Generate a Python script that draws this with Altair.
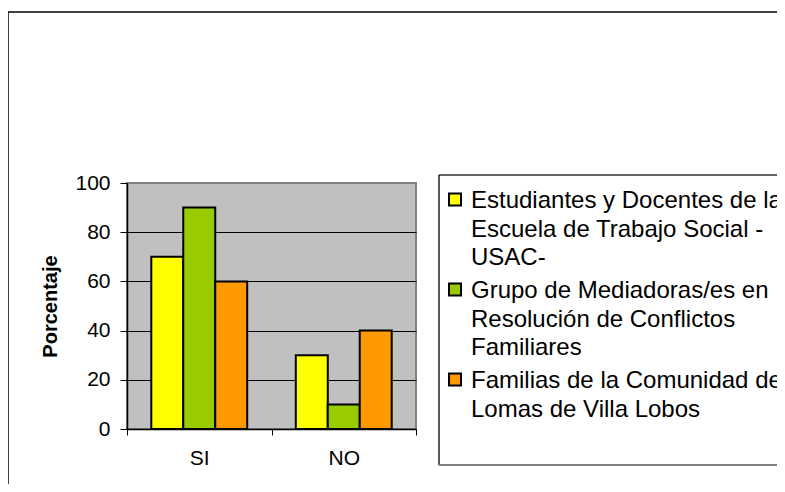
import altair as alt
import pandas as pd

categories = ["SI", "NO"]
series = [
    "Estudiantes y Docentes de la Escuela de Trabajo Social -USAC-",
    "Grupo de Mediadoras/es en Resolución de Conflictos Familiares",
    "Familias de la Comunidad de Lomas de Villa Lobos",
]
legend_lines = [
    ["Estudiantes y Docentes de la", "Escuela de Trabajo Social -", "USAC-"],
    ["Grupo de Mediadoras/es en", "Resolución de Conflictos", "Familiares"],
    ["Familias de la Comunidad de", "Lomas de Villa Lobos"],
]
values_estudiantes = [70, 30]
values_grupo = [90, 10]
values_familias = [60, 40]
colors = ["#FFFF00", "#99CC00", "#FF9900"]
y_ticks = [0, 20, 40, 60, 80, 100]

rows = []
for s, vals in zip(series, [values_estudiantes, values_grupo, values_familias]):
    for c, v in zip(categories, vals):
        rows.append({"respuesta": c, "grupo": s, "porcentaje": v})
df = pd.DataFrame(rows)

def js_str(t):
    return "'" + t.replace("'", "\\'") + "'"

expr = js_str("")
for s, lines in reversed(list(zip(series, legend_lines))):
    arr = "[" + ",".join(js_str(l) for l in lines) + "]"
    expr = f"datum.label === {js_str(s)} ? {arr} : ({expr})"

FONT = "Liberation Sans"

bars = alt.Chart(df).mark_bar(stroke="black", strokeWidth=2).encode(
    x=alt.X(
        "respuesta:N",
        sort=categories,
        scale=alt.Scale(paddingInner=0, paddingOuter=0),
        axis=alt.Axis(
            title=None,
            labelAngle=0,
            labelFontSize=21,
            labelColor="black",
            labelPadding=12,
            tickBand="extent",
            tickSize=6,
            tickColor="black",
            domainColor="black",
            domainWidth=1.5,
        ),
    ),
    xOffset=alt.XOffset(
        "grupo:N",
        sort=series,
        scale=alt.Scale(paddingInner=0, paddingOuter=0.76),
    ),
    y=alt.Y(
        "porcentaje:Q",
        scale=alt.Scale(domain=[0, 100], nice=False),
        axis=alt.Axis(
            title="Porcentaje",
            values=y_ticks,
            labelFontSize=21,
            labelColor="black",
            labelPadding=10,
            tickSize=7,
            tickColor="black",
            domainColor="black",
            domainWidth=1.5,
            grid=True,
            gridColor={"condition": {"test": "datum.value === 100", "value": "#808080"}, "value": "#000000"},
            gridWidth=1,
            titleFontSize=20,
            titleFontWeight="bold",
            titleColor="black",
            titleX=-77,
            titleY=123,
            titleAngle=270,
            titleAlign="center",
            titleBaseline="middle",
        ),
    ),
    color=alt.Color(
        "grupo:N",
        sort=series,
        scale=alt.Scale(domain=series, range=colors),
        legend=alt.Legend(
            title=None,
            orient="none",
            legendX=310,
            legendY=7,
            padding=6,
            labelFontSize=24,
            labelColor="black",
            labelFont=FONT,
            labelLimit=1000,
            labelBaseline="alphabetic",
            labelOffset=4,
            labelExpr=expr,
            rowPadding=9,
            symbolType="M-1,-2.43L1,-2.43L1,-0.43L-1,-0.43Z",
            symbolSize=144,
            symbolStrokeColor="black",
            symbolStrokeWidth=2,
            symbolOpacity=1,
        ),
    ),
)

one = alt.Data(values=[{}])
frame_top = alt.Chart(one).mark_rule(color="black", strokeWidth=1.5).encode(
    x=alt.value(-119), x2=alt.value(680), y=alt.value(-171)
)
frame_left = alt.Chart(one).mark_rule(color="black", strokeWidth=1.5).encode(
    x=alt.value(-119), y=alt.value(-171), y2=alt.value(330)
)
legend_fill = alt.Chart(one).mark_rect(fill="white", stroke=None).encode(
    x=alt.value(312), x2=alt.value(680), y=alt.value(-8), y2=alt.value(282)
)
legend_top = alt.Chart(one).mark_rule(color="#333333", strokeWidth=1.5).encode(
    x=alt.value(312), x2=alt.value(680), y=alt.value(-8)
)
legend_left = alt.Chart(one).mark_rule(color="#222222", strokeWidth=1.5).encode(
    x=alt.value(312), y=alt.value(-8), y2=alt.value(282)
)
legend_bottom = alt.Chart(one).mark_rule(color="#808080", strokeWidth=2).encode(
    x=alt.value(312), x2=alt.value(680), y=alt.value(282)
)

chart = alt.layer(
    frame_top, frame_left, legend_fill, legend_top, legend_left, legend_bottom, bars
).properties(
    width=289,
    height=246,
    padding={"left": 119, "top": 175, "right": 361, "bottom": 55},
    autosize=alt.AutoSizeParams(type="none"),
    background="white",
).configure(
    font=FONT,
    style={"guide-label": {"lineHeight": 28.5}},
).configure_view(
    fill="#C0C0C0", stroke="#808080", strokeWidth=2
)

chart.save("out.html", embed_options={"renderer": "svg", "actions": False})
